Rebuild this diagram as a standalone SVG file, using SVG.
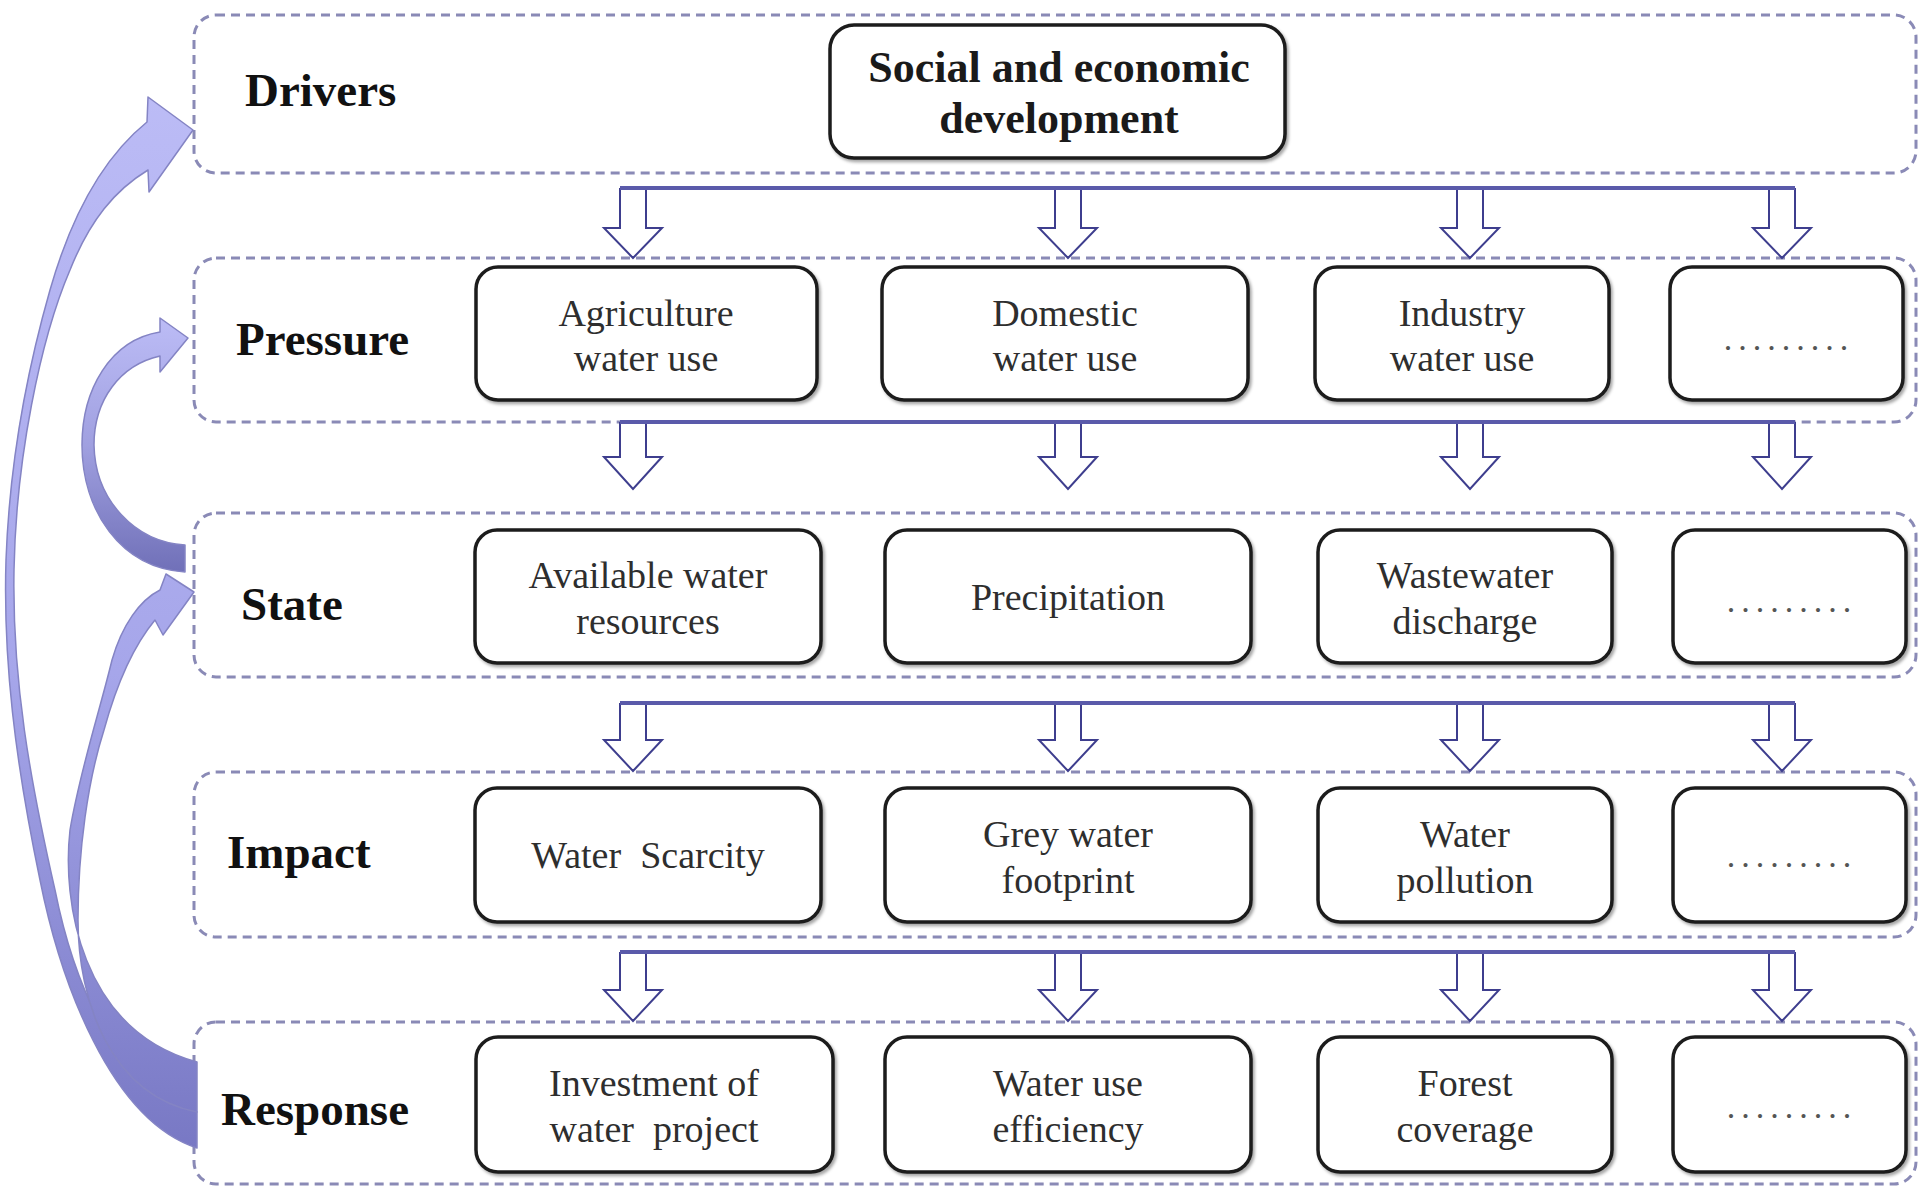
<svg xmlns="http://www.w3.org/2000/svg" width="1920" height="1187" viewBox="0 0 1920 1187">
  <style>
    .layer { fill: #ffffff; stroke: #8a8ab6; stroke-width: 3; stroke-dasharray: 9 6; }
    .box { fill: #ffffff; stroke: #1c1c1c; stroke-width: 3.5; }
    .label { font-family: "Liberation Serif", "Times New Roman", serif; font-weight: bold; font-size: 47px; fill: #111111; }
    .txt { font-family: "Liberation Serif", "Times New Roman", serif; font-size: 38px; fill: #2e2e2e; text-anchor: middle; }
    .title { font-family: "Liberation Serif", "Times New Roman", serif; font-weight: bold; font-size: 44px; fill: #1a1a1a; text-anchor: middle; }
    .dots { font-family: "Liberation Serif", "Times New Roman", serif; font-size: 34px; letter-spacing: 6px; fill: #555555; text-anchor: middle; }
    .down { fill: #ffffff; stroke: #3e3e8e; stroke-width: 2; stroke-linejoin: miter; }
    .bar { fill: none; stroke: #5a5aaa; stroke-width: 4; }
    .curve { stroke: #8484c4; stroke-width: 1.5; stroke-linejoin: round; }
  </style>
  <defs>
    <filter id="shadow" x="-5%" y="-5%" width="115%" height="125%">
      <feDropShadow dx="2" dy="2.5" stdDeviation="1.5" flood-color="#000000" flood-opacity="0.35"/>
    </filter>
    <linearGradient id="longFill" gradientUnits="userSpaceOnUse" x1="0" y1="90" x2="0" y2="1150">
      <stop offset="0" stop-color="#bcbcf6"/>
      <stop offset="0.55" stop-color="#a6a6ea"/>
      <stop offset="1" stop-color="#7878c4"/>
    </linearGradient>
    <linearGradient id="shortFill" gradientUnits="userSpaceOnUse" x1="0" y1="318" x2="0" y2="572">
      <stop offset="0" stop-color="#bcbcf6"/>
      <stop offset="0.5" stop-color="#a0a0e0"/>
      <stop offset="1" stop-color="#7070b8"/>
    </linearGradient>
  </defs>

  <rect width="1920" height="1187" fill="#ffffff"/>

  <!-- DPSIR layers -->
  <g id="layer-drivers">
    <rect class="layer" x="194" y="15" width="1722" height="158" rx="22"/>
    <text class="label" x="245" y="106">Drivers</text>
  </g>
  <g id="layer-pressure">
    <rect class="layer" x="194" y="258" width="1722" height="164" rx="22"/>
    <text class="label" x="236" y="355">Pressure</text>
  </g>
  <g id="layer-state">
    <rect class="layer" x="194" y="513" width="1722" height="164" rx="22"/>
    <text class="label" x="241" y="620">State</text>
  </g>
  <g id="layer-impact">
    <rect class="layer" x="194" y="772" width="1722" height="165" rx="22"/>
    <text class="label" x="227" y="868">Impact</text>
  </g>
  <g id="layer-response">
    <rect class="layer" x="194" y="1022" width="1722" height="162" rx="22"/>
    <text class="label" x="221" y="1125" font-size="49">Response</text>
  </g>

  <!-- Connectors -->
  <g id="connectors">
    <!-- Response to Drivers -->
    <path class="curve" fill="url(#longFill)" d="M 147 122 C 100 160, 70 220, 50 290 C 30 360, 10 450, 6 560 C 3 660, 15 760, 40 880 C 60 980, 110 1120, 197 1148 L 197 1112 C 120 1090, 75 990, 55 890 C 30 780, 12 680, 14 570 C 16 460, 40 340, 70 270 C 90 220, 115 190, 148 170 L 149 192 L 193 130 L 148 97 Z"/>
    <!-- Response to State -->
    <path class="curve" fill="url(#longFill)" d="M 160 590 C 140 600, 122 625, 112 660 C 100 710, 80 770, 70 830 C 62 900, 80 1030, 197 1062 L 197 1112 C 110 1095, 78 1000, 78 920 C 78 850, 88 780, 104 730 C 115 690, 130 650, 155 620 L 163 635 L 194 592 L 166 574 Z"/>
    <!-- State to Pressure -->
    <path class="curve" fill="url(#shortFill)" d="M 160 332 C 110 340, 82 390, 82 445 C 82 510, 120 568, 185 572 L 185 545 C 135 542, 95 500, 94 445 C 94 400, 120 365, 160 356 L 160 372 L 188 338 L 160 318 Z"/>

    <!-- Drivers to Pressure -->
    <path class="down" d="M 620 188 V 228 H 604 L 633 258 L 662 228 H 646 V 188"/>
    <path class="down" d="M 1055 188 V 228 H 1039 L 1068 258 L 1097 228 H 1081 V 188"/>
    <path class="down" d="M 1457 188 V 228 H 1441 L 1470 258 L 1499 228 H 1483 V 188"/>
    <path class="down" d="M 1769 188 V 228 H 1753 L 1782 258 L 1811 228 H 1795 V 188"/>
    <path class="bar" d="M 620 188 H 1795"/>

    <!-- Pressure to State -->
    <path class="down" d="M 620 422 V 457 H 604 L 633 489 L 662 457 H 646 V 422"/>
    <path class="down" d="M 1055 422 V 457 H 1039 L 1068 489 L 1097 457 H 1081 V 422"/>
    <path class="down" d="M 1457 422 V 457 H 1441 L 1470 489 L 1499 457 H 1483 V 422"/>
    <path class="down" d="M 1769 422 V 457 H 1753 L 1782 489 L 1811 457 H 1795 V 422"/>
    <path class="bar" d="M 620 422 H 1795"/>

    <!-- State to Impact -->
    <path class="down" d="M 620 703 V 740 H 604 L 633 771 L 662 740 H 646 V 703"/>
    <path class="down" d="M 1055 703 V 740 H 1039 L 1068 771 L 1097 740 H 1081 V 703"/>
    <path class="down" d="M 1457 703 V 740 H 1441 L 1470 771 L 1499 740 H 1483 V 703"/>
    <path class="down" d="M 1769 703 V 740 H 1753 L 1782 771 L 1811 740 H 1795 V 703"/>
    <path class="bar" d="M 620 703 H 1795"/>

    <!-- Impact to Response -->
    <path class="down" d="M 620 952 V 990 H 604 L 633 1021 L 662 990 H 646 V 952"/>
    <path class="down" d="M 1055 952 V 990 H 1039 L 1068 1021 L 1097 990 H 1081 V 952"/>
    <path class="down" d="M 1457 952 V 990 H 1441 L 1470 1021 L 1499 990 H 1483 V 952"/>
    <path class="down" d="M 1769 952 V 990 H 1753 L 1782 1021 L 1811 990 H 1795 V 952"/>
    <path class="bar" d="M 620 952 H 1795"/>
  </g>

  <!-- Drivers -->
  <g id="node-social-economic">
    <rect class="box" x="830" y="25" width="455" height="133" rx="24" filter="url(#shadow)"/>
    <text class="title" x="1059" y="82">Social and economic</text>
    <text class="title" x="1059" y="133">development</text>
  </g>

  <!-- Pressure -->
  <g id="node-agriculture">
    <rect class="box" x="476" y="267" width="341" height="133" rx="22" filter="url(#shadow)"/>
    <text class="txt" x="646" y="326">Agriculture</text>
    <text class="txt" x="646" y="371">water use</text>
  </g>
  <g id="node-domestic">
    <rect class="box" x="882" y="267" width="366" height="133" rx="22" filter="url(#shadow)"/>
    <text class="txt" x="1065" y="326">Domestic</text>
    <text class="txt" x="1065" y="371">water use</text>
  </g>
  <g id="node-industry">
    <rect class="box" x="1315" y="267" width="294" height="133" rx="22" filter="url(#shadow)"/>
    <text class="txt" x="1462" y="326">Industry</text>
    <text class="txt" x="1462" y="371">water use</text>
  </g>
  <g id="node-pressure-more">
    <rect class="box" x="1670" y="267" width="233" height="133" rx="22" filter="url(#shadow)"/>
    <text class="dots" x="1789" y="350">.........</text>
  </g>

  <!-- State -->
  <g id="node-available-water">
    <rect class="box" x="475" y="530" width="346" height="133" rx="22" filter="url(#shadow)"/>
    <text class="txt" x="648" y="588">Available water</text>
    <text class="txt" x="648" y="634">resources</text>
  </g>
  <g id="node-precipitation">
    <rect class="box" x="885" y="530" width="366" height="133" rx="22" filter="url(#shadow)"/>
    <text class="txt" x="1068" y="610">Precipitation</text>
  </g>
  <g id="node-wastewater">
    <rect class="box" x="1318" y="530" width="294" height="133" rx="22" filter="url(#shadow)"/>
    <text class="txt" x="1465" y="588">Wastewater</text>
    <text class="txt" x="1465" y="634">discharge</text>
  </g>
  <g id="node-state-more">
    <rect class="box" x="1673" y="530" width="233" height="133" rx="22" filter="url(#shadow)"/>
    <text class="dots" x="1792" y="612">.........</text>
  </g>

  <!-- Impact -->
  <g id="node-water-scarcity">
    <rect class="box" x="475" y="788" width="346" height="134" rx="22" filter="url(#shadow)"/>
    <text class="txt" x="648" y="868" xml:space="preserve">Water  Scarcity</text>
  </g>
  <g id="node-grey-water">
    <rect class="box" x="885" y="788" width="366" height="134" rx="22" filter="url(#shadow)"/>
    <text class="txt" x="1068" y="847">Grey water</text>
    <text class="txt" x="1068" y="893">footprint</text>
  </g>
  <g id="node-water-pollution">
    <rect class="box" x="1318" y="788" width="294" height="134" rx="22" filter="url(#shadow)"/>
    <text class="txt" x="1465" y="847">Water</text>
    <text class="txt" x="1465" y="893">pollution</text>
  </g>
  <g id="node-impact-more">
    <rect class="box" x="1673" y="788" width="233" height="134" rx="22" filter="url(#shadow)"/>
    <text class="dots" x="1792" y="867">.........</text>
  </g>

  <!-- Response -->
  <g id="node-investment">
    <rect class="box" x="476" y="1037" width="357" height="135" rx="22" filter="url(#shadow)"/>
    <text class="txt" x="654" y="1096">Investment of</text>
    <text class="txt" x="654" y="1142" xml:space="preserve">water  project</text>
  </g>
  <g id="node-efficiency">
    <rect class="box" x="885" y="1037" width="366" height="135" rx="22" filter="url(#shadow)"/>
    <text class="txt" x="1068" y="1096">Water use</text>
    <text class="txt" x="1068" y="1142">efficiency</text>
  </g>
  <g id="node-forest">
    <rect class="box" x="1318" y="1037" width="294" height="135" rx="22" filter="url(#shadow)"/>
    <text class="txt" x="1465" y="1096">Forest</text>
    <text class="txt" x="1465" y="1142">coverage</text>
  </g>
  <g id="node-response-more">
    <rect class="box" x="1673" y="1037" width="233" height="135" rx="22" filter="url(#shadow)"/>
    <text class="dots" x="1792" y="1118">.........</text>
  </g>
</svg>
